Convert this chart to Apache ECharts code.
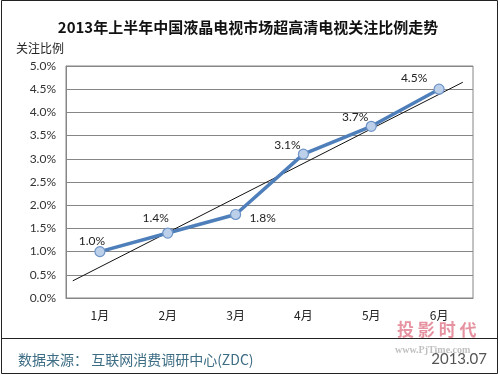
<!DOCTYPE html>
<html>
<head>
<meta charset="utf-8">
<script src="https://cdn.jsdelivr.net/npm/echarts@6/dist/echarts.min.js"></script>
<style>html,body{margin:0;padding:0;background:#fff;}#c{width:500px;height:375px;}</style>
</head>
<body>
<div id="c"></div>
<script>
// ---- data ----
var months = ['1月', '2月', '3月', '4月', '5月', '6月'];
var shares = [1.0, 1.4, 1.8, 3.1, 3.7, 4.5];            // 关注比例 (%)
var trendX = [0.6, 6.35];                                 // trendline endpoints (category units, 1 = 1月)
var trendY = [0.37, 4.65];                                // trendline endpoint values (%)
var yTicks = [0, 0.5, 1.0, 1.5, 2.0, 2.5, 3.0, 3.5, 4.0, 4.5, 5.0];

// ---- layout / style ----
var labelOffsets = [[-8, -10], [-12, -15], [27, 4], [-16, -9], [-16, -9], [-25, -11]];
var numFont = 'Lato, "Liberation Sans", sans-serif';
var cjkFont = '"Noto Sans CJK SC", sans-serif';

var chart = echarts.init(document.getElementById('c'), null, {renderer: 'canvas'});
var option = {
  backgroundColor: '#ffffff',
  animation: false,
  title: {
    text: '2013年上半年中国液晶电视市场超高清电视关注比例走势',
    left: 243, top: 15, textAlign: 'center',
    textStyle: {fontFamily: cjkFont, fontSize: 15, fontWeight: 'bold', color: '#111'}
  },
  grid: {left: 66, top: 66, width: 407, height: 232, show: true, borderColor: '#868686', borderWidth: 1},
  xAxis: [{
    type: 'category', data: months, boundaryGap: true,
    axisLine: {lineStyle: {color: '#868686'}},
    axisTick: {inside: true, length: 9, lineStyle: {color: '#868686'}},
    axisLabel: {color: '#222', fontFamily: cjkFont, fontSize: 12, margin: 11},
    splitLine: {show: false}
  }, {
    type: 'value', min: 0.5, max: 6.5, show: false
  }],
  yAxis: {
    type: 'value', min: yTicks[0], max: yTicks[yTicks.length - 1], interval: 0.5,
    name: '关注比例', nameLocation: 'end', nameGap: 12,
    nameTextStyle: {fontFamily: cjkFont, fontSize: 12, color: '#222', align: 'right', padding: [0, 2, 0, 0]},
    axisLine: {show: true, lineStyle: {color: '#868686'}},
    axisTick: {show: false},
    axisLabel: {color: '#333', fontFamily: numFont, fontSize: 12, margin: 10,
      formatter: function (v) { return v.toFixed(1) + '%'; }},
    splitLine: {lineStyle: {color: '#868686', width: 1}}
  },
  series: [{
    type: 'line', xAxisIndex: 1, symbol: 'none', silent: true,
    data: trendX.map(function (x, i) { return [x, trendY[i]]; }),
    lineStyle: {color: '#111', width: 1}, z: 3
  }, {
    type: 'line', xAxisIndex: 0,
    data: shares.map(function (v, i) {
      return {value: v, label: {offset: labelOffsets[i]}};
    }),
    symbol: 'circle', symbolSize: 10,
    lineStyle: {color: '#4f7fba', width: 3.5},
    itemStyle: {color: '#bcd0ea', borderColor: '#6d93c6', borderWidth: 1.2},
    label: {show: true, position: 'inside', color: '#222', fontFamily: numFont, fontSize: 12,
      formatter: function (p) { return p.value.toFixed(1) + '%'; }},
    z: 4
  }],
  graphic: [
    {type: 'rect', shape: {x: 1.5, y: 0.5, width: 496, height: 373}, style: {fill: 'none', stroke: '#222', lineWidth: 1}, silent: true},
    {type: 'line', shape: {x1: 2, y1: 338.5, x2: 497, y2: 338.5}, style: {stroke: '#222', lineWidth: 1}, silent: true},
    {type: 'text', left: 397, top: 321, style: {text: '投 影 时 代', fill: 'rgba(220,100,120,0.7)', font: 'bold 17px "Noto Sans CJK SC", sans-serif'}, silent: true},
    {type: 'text', left: 395, top: 345, style: {text: 'www.PjTime.com', fill: 'rgba(150,150,150,0.6)', font: 'bold 10px "Liberation Serif", serif'}, silent: true},
    {type: 'text', left: 18, top: 353, style: {text: '数据来源： 互联网消费调研中心(ZDC)', fill: '#3d6d84', font: '14px "Noto Sans CJK SC", sans-serif'}, silent: true},
    {type: 'text', right: 13, top: 352, style: {text: '2013.07', fill: '#555', font: '15px Lato, "Liberation Sans", sans-serif'}, silent: true}
  ]
};
chart.setOption(option);
</script>
</body>
</html>
